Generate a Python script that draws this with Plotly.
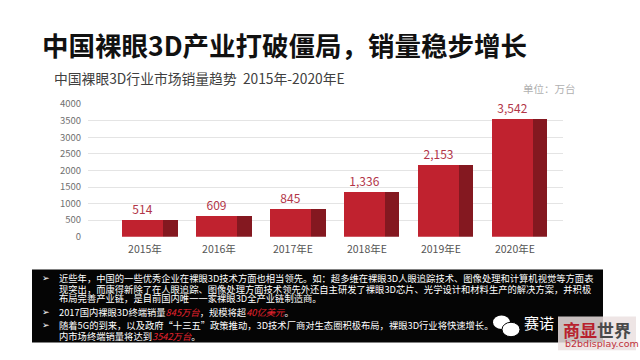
import plotly.graph_objects as go

categories = ["2015年", "2016年", "2017年E", "2018年E", "2019年E", "2020年E"]
sales = [514, 609, 845, 1336, 2153, 3542]
y_ticks = [0, 500, 1000, 1500, 2000, 2500, 3000, 3500, 4000]

title = "中国裸眼3D产业打破僵局，销量稳步增长"
subtitle = "中国裸眼3D行业市场销量趋势  2015年-2020年E"
unit = "单位：万台"
RED = '<span style="color:#e8232e"><i>{}</i></span>'
notes = [
    ("近些年，中国的一些优秀企业在裸眼3D技术方面也相当领先。如：超多维在裸眼3D人眼追踪技术、图像处理和计算机视觉等方面表", True),
    ("现突出，而康得新除了在人眼追踪、图像处理方面技术领先外还自主研发了裸眼3D芯片、光学设计和材料生产的解决方案，并积极", False),
    ("布局完善产业链，是目前国内唯一一家裸眼3D全产业链制造商。", False),
    ("2017国内裸眼3D终端销量" + RED.format("845万台") + "，规模将超" + RED.format("40亿美元") + "。", True),
    ("随着5G的到来，以及政府“十三五”政策推动，3D技术厂商对生态圈积极布局，裸眼3D行业将快速增长。", True),
    ("内市场终端销量将达到" + RED.format("3542万台") + "。", False),
]
note_y = [281, 292, 302, 316, 330, 341]

W, H = 640, 360
FONT = "Noto Sans CJK SC"


def px(x):
    return x / W


def py(y):
    return 1 - y / H


fig = go.Figure()
# front face
fig.add_trace(go.Bar(
    x=categories, y=sales, width=0.55, offset=-0.31,
    marker=dict(color="#c0222f", line=dict(width=0)),
    texttemplate="%{y:,}", textposition="outside",
    textfont=dict(color="#b23548", size=12, family=FONT),
    cliponaxis=False, hoverinfo="skip", showlegend=False,
))
# side face
fig.add_trace(go.Bar(
    x=categories, y=sales, width=0.2, offset=0.24,
    marker=dict(color="#841820", line=dict(width=0)),
    hoverinfo="skip", showlegend=False,
))


def note(text, x, y, size, color, family=FONT, xanchor="left"):
    return dict(text=text, x=x, y=y, xref="paper", yref="paper", xanchor=xanchor,
                yanchor="middle", showarrow=False, font=dict(size=size, color=color, family=family))


annotations = [
    note("<b>" + title + "</b>", px(40), py(38), 26.5, "#111111"),
    note(subtitle, px(52), py(73), 13.8, "#404040"),
    note(unit, px(578), py(84), 10.5, "#b0b0b0", xanchor="right"),
]
for (txt, bullet), yy in zip(notes, note_y):
    annotations.append(note(txt, px(57), py(yy), 9.3, "#ffffff"))
    if bullet:
        annotations.append(note("➢", px(46), py(yy), 9, "#ffffff", "DejaVu Sans", "center"))

# watermark
annotations += [
    note("赛诺", px(522), py(327), 15, "#ffffff"),
    note('<b><span style="color:#b8202c">商显</span><span style="color:#4a4a4a">世界</span></b>',
         px(561), py(334), 17, "#4a4a4a"),
    note("b2bdisplay.com", px(563), py(349), 9.5, "#c0303a", "DejaVu Sans"),
]

shapes = [
    dict(type="rect", xref="paper", yref="paper", x0=px(32), x1=px(603), y0=py(348), y1=py(272),
         fillcolor="#050505", line=dict(width=0), layer="below"),
    dict(type="rect", xref="paper", yref="paper", x0=px(558), x1=px(636), y0=py(356), y1=py(321),
         fillcolor="rgba(235,225,225,0.85)", line=dict(width=0), layer="above"),
    dict(type="circle", xref="paper", yref="paper", x0=px(493), x1=px(510), y0=py(334), y1=py(320),
         fillcolor="#ffffff", line=dict(width=0), layer="above"),
    dict(type="circle", xref="paper", yref="paper", x0=px(502), x1=px(520), y0=py(342), y1=py(327),
         fillcolor="#ffffff", line=dict(color="#050505", width=1), layer="above"),
]

fig.update_layout(
    width=W, height=H,
    margin=dict(l=0, r=0, t=0, b=0),
    paper_bgcolor="#ffffff", plot_bgcolor="rgba(0,0,0,0)",
    barmode="overlay", bargap=0,
    xaxis=dict(domain=[px(88), px(563)], range=[-0.77, 5.65], showgrid=False, showline=False,
               zeroline=False, ticks="", ticklabelstandoff=5,
               tickfont=dict(size=10.5, color="#555555", family=FONT)),
    yaxis=dict(domain=[py(238), py(100)], range=[0, 4000], tickvals=y_ticks,
               showgrid=True, gridcolor="#e4e4e4", gridwidth=1, zeroline=False, showline=False,
               ticks="", ticklabelstandoff=6, tickformat="d",
               tickfont=dict(size=9.5, color="#707070", family=FONT)),
    annotations=annotations,
    shapes=shapes,
)

fig.write_html("out.html", config={"displayModeBar": False},
               post_script="document.body.style.margin='0';")
